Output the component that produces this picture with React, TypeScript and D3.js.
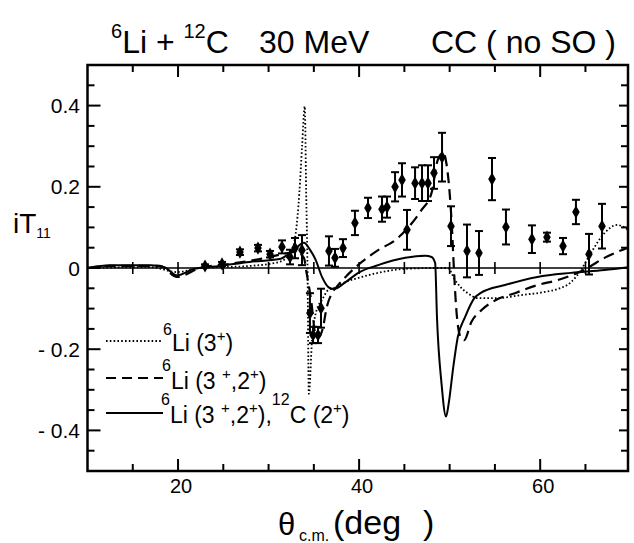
import React from 'react';
import * as d3 from 'd3';

const W = 634;
const H = 543;
const FONT = '"Liberation Sans", Arial, Helvetica, sans-serif';

const xDomain = [10, 69.7];
const yDomain = [-0.5, 0.5];
const xMajorTicks = [20, 40, 60];
const xMinorTicks = [15, 25, 30, 35, 45, 50, 55, 65];
const zeroLineTicks = [15, 20, 25, 30, 35, 40, 45, 50, 55, 60, 65];
const yMajorTicks = [-0.4, -0.2, 0, 0.2, 0.4];
const yTickLabels = ['- 0.4', '- 0.2', '0', '0.2', '0.4'];
const yMinorTicks = [-0.45, -0.35, -0.3, -0.25, -0.15, -0.1, -0.05, 0.05, 0.1, 0.15, 0.25, 0.3, 0.35, 0.45];

// experimental data: theta (deg), iT11, error
const dataTheta = [22.98, 24.86, 26.84, 28.83, 30.16, 31.48, 32.37, 32.92, 33.69, 34.57, 34.91, 35.46, 35.79, 36.67, 37.34, 38.22, 39.54, 40.98, 42.53, 43.08, 43.97, 44.74, 45.29, 46.18, 46.95, 47.61, 48.27, 49.16, 50.15, 51.92, 53.24, 54.68, 56.22, 59.09, 60.75, 62.52, 63.95, 65.39, 66.83];
const dataValue = [0.005, 0.01, 0.039, 0.049, 0.034, 0.052, 0.027, 0.049, 0.044, -0.111, -0.165, -0.165, -0.099, 0.042, 0.025, 0.049, 0.111, 0.148, 0.145, 0.15, 0.2, 0.217, 0.094, 0.209, 0.209, 0.209, 0.234, 0.273, 0.103, 0.042, 0.037, 0.219, 0.101, 0.071, 0.076, 0.054, 0.138, 0.034, 0.103];
const dataError = [0.004, 0.005, 0.007, 0.008, 0.008, 0.016, 0.018, 0.025, 0.037, 0.049, 0.02, 0.02, 0.048, 0.036, 0.022, 0.022, 0.03, 0.025, 0.031, 0.026, 0.036, 0.041, 0.049, 0.039, 0.044, 0.044, 0.039, 0.06, 0.049, 0.065, 0.054, 0.052, 0.043, 0.034, 0.011, 0.02, 0.03, 0.05, 0.055];

// theory curves
const dottedTheta = [10, 17, 19.9, 22.4, 27.9, 31.2, 32.6, 33.4, 33.7, 34.0, 34.15, 34.3, 34.45, 34.8, 35.3, 35.9, 36.6, 37.5, 38.5, 40.3, 42.1, 45.1, 48.4, 49.8, 50.6, 51.2, 52.0, 53.1, 55.3, 57.8, 60.5, 61.9, 63.4, 64.5, 65.6, 67.1, 68.5, 69.7];
const dottedValue = [0, 0.002, -0.01, 0, 0.005, 0.015, 0.044, 0.185, 0.3, 0.398, 0.19, 0.0, -0.31, -0.178, -0.104, -0.079, -0.054, -0.047, -0.035, -0.022, -0.012, -0.002, 0, 0, -0.03, -0.047, -0.062, -0.074, -0.074, -0.067, -0.059, -0.052, -0.035, -0.005, 0.037, 0.086, 0.106, 0.094];

const dashedTheta = [10, 12.5, 18, 19.9, 22.4, 25.7, 29, 31.7, 33.1, 33.9, 34.2, 34.7, 35.2, 35.5, 36.0, 36.4, 37.0, 37.5, 38.5, 40.3, 42.1, 44.0, 45.4, 46.9, 48.0, 48.7, 49.3, 49.7, 50.0, 50.25, 50.45, 50.7, 51.2, 51.6, 52.4, 53.5, 55.1, 57.2, 59.7, 61.9, 64.1, 65.2, 67.1, 69.7];
const dashedValue = [0, 0.005, 0.005, -0.022, 0, 0.01, 0.022, 0.035, 0.04, 0.025, -0.012, -0.079, -0.165, -0.17, -0.148, -0.099, -0.062, -0.047, -0.022, 0.015, 0.044, 0.069, 0.099, 0.143, 0.185, 0.267, 0.284, 0.249, 0.185, 0.101, 0.007, -0.091, -0.17, -0.178, -0.133, -0.104, -0.079, -0.062, -0.042, -0.03, -0.012, 0, 0.025, 0.05];

const solidTheta = [10, 12.5, 17, 18.5, 19.9, 21.8, 24.6, 27.9, 31.2, 32.8, 33.9, 34.6, 35.2, 35.9, 36.6, 37.2, 38.5, 39.9, 42.1, 45.1, 47.3, 48.0, 48.4, 48.6, 49.1, 49.6, 49.9, 50.4, 50.9, 51.7, 52.8, 53.4, 56.1, 59.7, 63.4, 67.1, 69.7];
const solidValue = [0, 0.007, 0.007, 0.002, -0.018, -0.002, 0.005, 0.015, 0.022, 0.044, 0.062, 0.044, 0.02, -0.022, -0.047, -0.052, -0.035, -0.012, 0.007, 0.025, 0.03, 0.027, 0.012, -0.121, -0.284, -0.366, -0.333, -0.244, -0.17, -0.121, -0.072, -0.062, -0.042, -0.022, -0.012, -0.005, 0.002];

const legendLabels = ['dotted', 'dashed', 'solid'];

export default function App() {
  const x = d3.scaleLinear().domain(xDomain).range([87.5, 628]);
  const y = d3.scaleLinear().domain(yDomain).range([471, 65]);
  const line = d3
    .line<[number, number]>()
    .x((d) => x(d[0]))
    .y((d) => y(d[1]))
    .curve(d3.curveMonotoneX);
  const zip = (a: number[], b: number[]) => a.map((v, i) => [v, b[i]] as [number, number]);
  const diamond = d3.symbol().type(d3.symbolDiamond).size(50)();

  const x0 = x(xDomain[0]);
  const x1 = x(xDomain[1]);
  const yTop = y(yDomain[1]);
  const yBot = y(yDomain[0]);
  const y0 = y(0);

  const legendY = [341, 378, 413];
  const dashes = ['1.6,2.2', '10,6', 'none'];

  return (
    <svg width={W} height={H} style={{ position: 'absolute', left: 0, top: 0, background: '#fff' }} fontFamily={FONT}>
      <rect x={0} y={0} width={W} height={H} fill="#fff" />
      {/* Title */}
      <text x={111} y={53} fontSize={32} fill="#000">
        <tspan fontSize={20} dy={-15}>6</tspan>
        <tspan dy={15}>Li + </tspan>
        <tspan fontSize={20} dy={-15}>12</tspan>
        <tspan dy={15}>C</tspan>
      </text>
      <text x={259} y={53} fontSize={32} fill="#000">30 MeV</text>
      <text x={431} y={53} fontSize={32} fill="#000">CC ( no SO )</text>

      {/* zero line */}
      <line x1={x0} x2={x1} y1={y0} y2={y0} stroke="#000" strokeWidth={1.6} />
      {zeroLineTicks.map((t) => (
        <line key={'z' + t} x1={x(t)} x2={x(t)} y1={y0 - 6} y2={y0 + 6} stroke="#000" strokeWidth={1.6} />
      ))}

      {/* curves */}
      <path d={line(zip(dottedTheta, dottedValue)) || ''} fill="none" stroke="#000" strokeWidth={1.8} strokeDasharray="1.6,2.2" />
      <path d={line(zip(dashedTheta, dashedValue)) || ''} fill="none" stroke="#000" strokeWidth={2.2} strokeDasharray="11,6" />
      <path d={line(zip(solidTheta, solidValue)) || ''} fill="none" stroke="#000" strokeWidth={2} />

      {/* data */}
      {dataTheta.map((t, i) => {
        const cx = x(t);
        const lo = y(dataValue[i] - dataError[i]);
        const hi = y(dataValue[i] + dataError[i]);
        return (
          <g key={'d' + i}>
            <line x1={cx} x2={cx} y1={lo} y2={hi} stroke="#000" strokeWidth={2} />
            <line x1={cx - 4} x2={cx + 4} y1={lo} y2={lo} stroke="#000" strokeWidth={2} />
            <line x1={cx - 4} x2={cx + 4} y1={hi} y2={hi} stroke="#000" strokeWidth={2} />
            <path d={diamond || ''} transform={`translate(${cx},${y(dataValue[i])})`} fill="#000" />
          </g>
        );
      })}

      {/* frame */}
      <rect x={x0} y={yTop} width={x1 - x0} height={yBot - yTop} fill="none" stroke="#000" strokeWidth={2.5} />

      {/* x ticks */}
      {xMajorTicks.map((t) => (
        <g key={'xM' + t}>
          <line x1={x(t)} x2={x(t)} y1={yBot} y2={yBot - 12} stroke="#000" strokeWidth={2} />
          <line x1={x(t)} x2={x(t)} y1={yTop} y2={yTop + 12} stroke="#000" strokeWidth={2} />
          <text x={x(t) + 3} y={493} fontSize={20} textAnchor="middle" fill="#000">{t}</text>
        </g>
      ))}
      {xMinorTicks.map((t) => (
        <g key={'xm' + t}>
          <line x1={x(t)} x2={x(t)} y1={yBot} y2={yBot - 7} stroke="#000" strokeWidth={2} />
          <line x1={x(t)} x2={x(t)} y1={yTop} y2={yTop + 7} stroke="#000" strokeWidth={2} />
        </g>
      ))}

      {/* y ticks */}
      {yMajorTicks.map((t, i) => (
        <g key={'yM' + t}>
          <line x1={x0} x2={x0 + 13} y1={y(t)} y2={y(t)} stroke="#000" strokeWidth={2} />
          <line x1={x1} x2={x1 - 9} y1={y(t)} y2={y(t)} stroke="#000" strokeWidth={2} />
          <text x={80} y={y(t) + 7.5} fontSize={21} textAnchor="end" fill="#000">{yTickLabels[i]}</text>
        </g>
      ))}
      {yMinorTicks.map((t) => (
        <g key={'ym' + t}>
          <line x1={x0} x2={x0 + 7} y1={y(t)} y2={y(t)} stroke="#000" strokeWidth={2} />
          <line x1={x1} x2={x1 - 7} y1={y(t)} y2={y(t)} stroke="#000" strokeWidth={2} />
        </g>
      ))}

      {/* axis labels */}
      <text x={13} y={233} fontSize={28} fill="#000">
        iT<tspan fontSize={14} dy={5}>11</tspan>
      </text>
      <text x={278} y={535} fontSize={31} fill="#000">θ</text>
      <text x={299} y={541} fontSize={16} fill="#000">c.m.</text>
      <text x={333} y={534} fontSize={34} fill="#000">(deg</text>
      <text x={423} y={534} fontSize={34} fill="#000">)</text>

      {/* legend */}
      {legendLabels.map((l, i) => (
        <line key={'ll' + l} x1={106} x2={163} y1={legendY[i]} y2={legendY[i]} stroke="#000" strokeWidth={i === 0 ? 1.8 : 2.2} strokeDasharray={dashes[i]} />
      ))}
      <text x={163} y={351} fontSize={23} fill="#000">
        <tspan fontSize={16} dy={-16}>6</tspan>
        <tspan dy={16}>Li (3</tspan>
        <tspan fontSize={15} dy={-10}>+</tspan>
        <tspan dy={10}>)</tspan>
      </text>
      <text x={162} y={389} fontSize={23} fill="#000">
        <tspan fontSize={16} dy={-18}>6</tspan>
        <tspan dy={18}>Li (3 </tspan>
        <tspan fontSize={15} dy={-10}>+</tspan>
        <tspan dy={10}>,2</tspan>
        <tspan fontSize={15} dy={-10}>+</tspan>
        <tspan dy={10}>)</tspan>
      </text>
      <text x={161} y={423} fontSize={23} fill="#000">
        <tspan fontSize={16} dy={-18}>6</tspan>
        <tspan dy={18}>Li (3 </tspan>
        <tspan fontSize={15} dy={-10}>+</tspan>
        <tspan dy={10}>,2</tspan>
        <tspan fontSize={15} dy={-10}>+</tspan>
        <tspan dy={10}>),</tspan>
        <tspan fontSize={16} dy={-18}>12</tspan>
        <tspan dy={18}>C (2</tspan>
        <tspan fontSize={15} dy={-10}>+</tspan>
        <tspan dy={10}>)</tspan>
      </text>
    </svg>
  );
}
